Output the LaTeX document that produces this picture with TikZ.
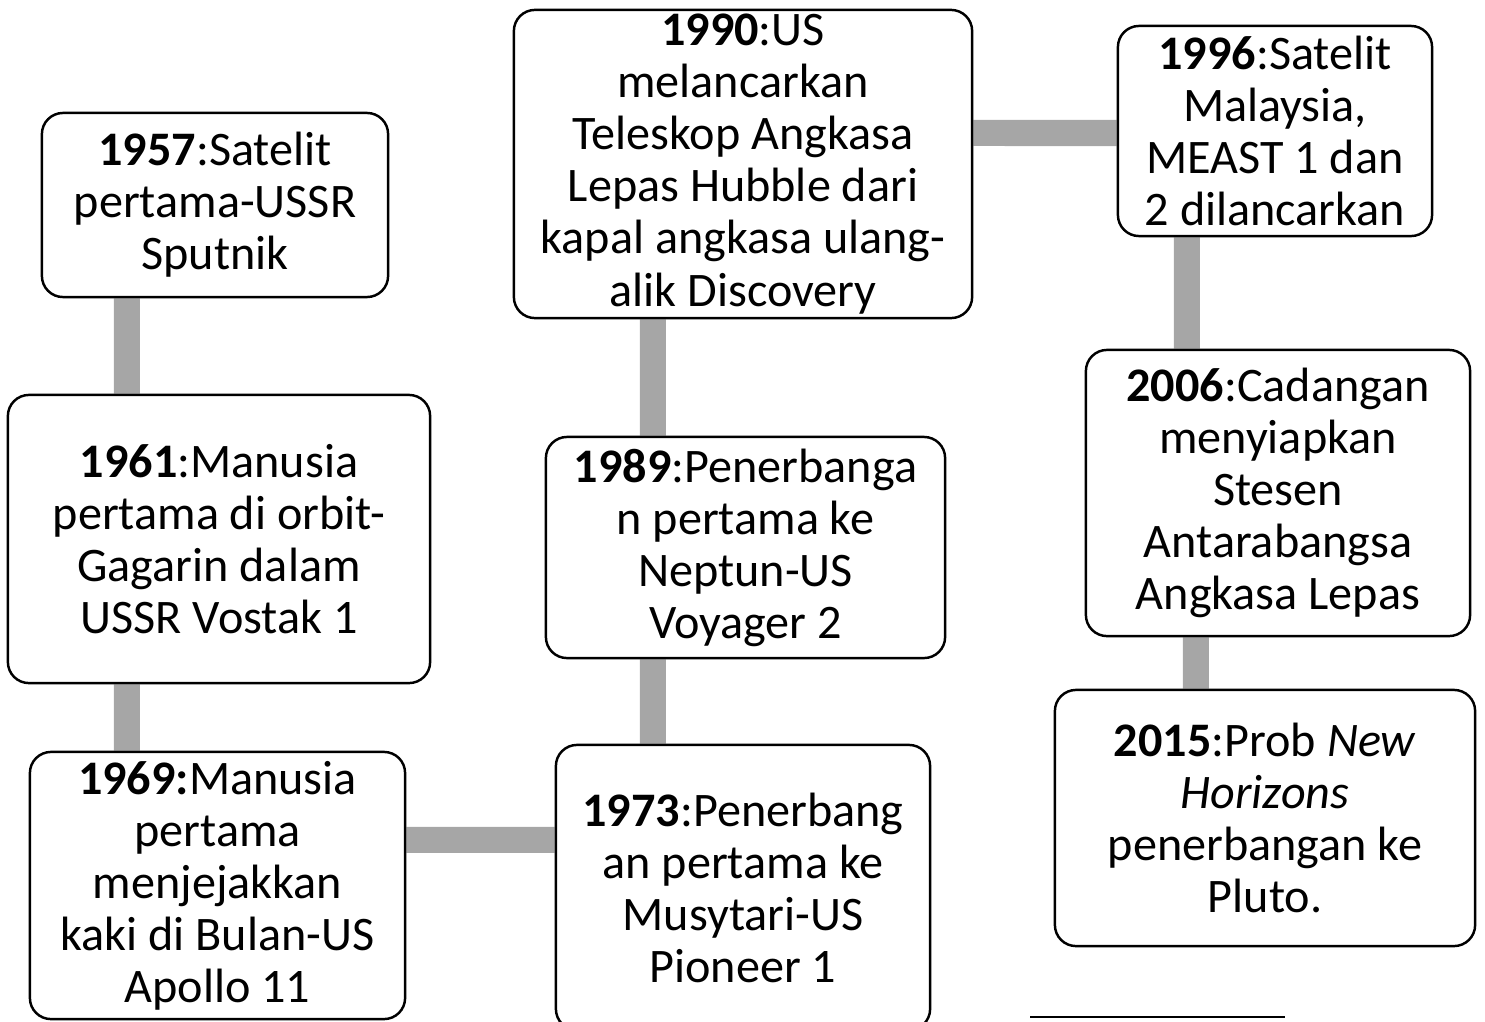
\documentclass[tikz,border=0pt]{standalone}
\usepackage{fontspec}
\setmainfont{Carlito}
\usepackage{tikz}
\usetikzlibrary{backgrounds}
\definecolor{bargrey}{RGB}{166,166,166}

\begin{document}
\begin{tikzpicture}[x=0.01cm, y=-0.01cm,
    evbox/.style={rectangle, draw=black, line width=0.7pt, fill=white,
        rounded corners=6pt, align=center, inner sep=0pt,
        font=\fontsize{13.7pt}{14.8pt}\selectfont},
    conn/.style={draw=bargrey, line width=7.4pt}
]
    \useasboundingbox (0,0) rectangle (1485,1021);

    \node[evbox, minimum width=3.46cm, minimum height=1.84cm] (y1957) at (215,205)
        {\textbf{1957}:Satelit\\pertama-USSR\\Sputnik};
    \node[evbox, minimum width=4.22cm, minimum height=2.88cm] (y1961) at (219,539)
        {\textbf{1961}:Manusia\\pertama di orbit-\\Gagarin dalam\\USSR Vostak 1};
    \node[evbox, minimum width=3.75cm, minimum height=2.67cm] (y1969) at (217.5,885.5)
        {\textbf{1969:}Manusia\\pertama\\menjejakkan\\kaki di Bulan-US\\Apollo 11};
    \node[evbox, minimum width=3.74cm, minimum height=2.85cm] (y1973) at (743,887.5)
        {\textbf{1973}:Penerbang\\an pertama ke\\Musytari-US\\Pioneer 1};
    \node[evbox, minimum width=3.99cm, minimum height=2.21cm] (y1989) at (745.5,547.5)
        {\textbf{1989}:Penerbanga\\n pertama ke\\Neptun-US\\Voyager 2};
    \node[evbox, minimum width=4.58cm, minimum height=3.08cm] (y1990) at (743,164)
        {\textbf{1990}:US\\melancarkan\\Teleskop Angkasa\\Lepas Hubble dari\\kapal angkasa ulang-\\alik Discovery};
    \node[evbox, minimum width=3.14cm, minimum height=2.10cm] (y1996) at (1275,131)
        {\textbf{1996}:Satelit\\Malaysia,\\MEAST 1 dan\\2 dilancarkan};
    \node[evbox, minimum width=3.84cm, minimum height=2.86cm] (y2006) at (1278,493)
        {\textbf{2006}:Cadangan\\menyiapkan\\Stesen\\Antarabangsa\\Angkasa Lepas};
    \node[evbox, minimum width=4.20cm, minimum height=2.56cm] (y2015) at (1265,818)
        {\textbf{2015}:Prob \textit{New}\\\textit{Horizons}\\penerbangan ke\\Pluto.};

    \begin{scope}[on background layer]
        \draw[conn] ([xshift=-8.8mm]y1957.south) -- ([xshift=-9.2mm]y1961.north);
        \draw[conn] ([xshift=-9.2mm]y1961.south) -- ([xshift=-9.05mm]y1969.north);
        \draw[conn] ([yshift=4.55mm]y1969.east) -- ([yshift=4.75mm]y1973.west);
        \draw[conn] ([xshift=-9mm]y1973.north) -- ([xshift=-9.25mm]y1989.south);
        \draw[conn] ([xshift=-9.25mm]y1989.north) -- ([xshift=-9mm]y1990.south);
        \draw[conn] ([yshift=3.1mm]y1990.east) -- ([yshift=-0.2mm]y1996.west);
        \draw[conn] ([xshift=-8.8mm]y1996.south) -- ([xshift=-9.1mm]y2006.north);
        \draw[conn] ([xshift=-8.2mm]y2006.south) -- ([xshift=-6.9mm]y2015.north);
    \end{scope}

    \draw[line width=0.6pt] (1030,1017) -- (1285,1017);
\end{tikzpicture}
\end{document}
